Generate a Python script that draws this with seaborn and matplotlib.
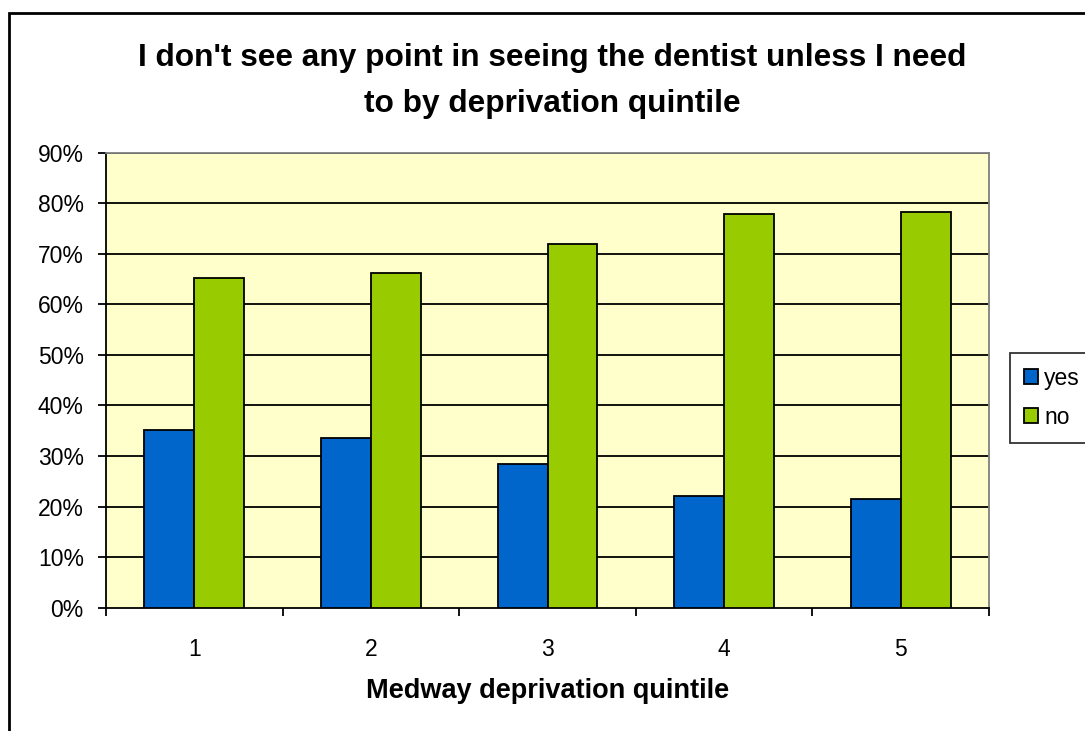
import matplotlib
matplotlib.use("Agg")
import matplotlib.pyplot as plt
import seaborn as sns
import pandas as pd
import numpy as np
from matplotlib.patches import Rectangle

quintiles = ["1", "2", "3", "4", "5"]
yes_vals = [35.1, 33.5, 28.4, 22.0, 21.6]
no_vals = [65.3, 66.3, 71.9, 77.8, 78.3]
y_ticks = [0, 10, 20, 30, 40, 50, 60, 70, 80, 90]
y_tick_labels = [f"{v}%" for v in y_ticks]
title_lines = ["I don't see any point in seeing the dentist unless I need",
               "to by deprivation quintile"]
xlabel = "Medway deprivation quintile"

df = pd.DataFrame({
    "quintile": quintiles * 2,
    "answer": ["yes"] * 5 + ["no"] * 5,
    "value": yes_vals + no_vals,
})

sns.set_theme(style="white")
plt.rcParams['font.family'] = ['Liberation Sans', 'DejaVu Sans']
plt.rcParams.update({"text.color": "black", "axes.labelcolor": "black",
                     "xtick.color": "black", "ytick.color": "black"})

W, H = 1085, 731
fig = plt.figure(figsize=(W / 100, H / 100), dpi=100)
ax = fig.add_axes([106 / W, 1 - 607.7 / H, (989 - 106) / W, (607.7 - 152.7) / H])
ax.set_facecolor("#FFFFCC")

sns.barplot(data=df, x="quintile", y="value", hue="answer",
            palette={"yes": "#0066CC", "no": "#99CC00"}, saturation=1,
            width=0.565, gap=0, edgecolor="black", linewidth=1.3,
            ax=ax, legend=True, zorder=3)

ax.set_ylim(0, 90)
ax.set_xlim(-0.5, 4.5)
ax.set_yticks(y_ticks)
ax.set_yticklabels(y_tick_labels, fontsize=16.5)
for v in y_ticks[1:]:
    ax.axhline(v, color="black", lw=1.3, zorder=1)

ax.set_xticks(np.arange(-0.5, 5.0, 1.0))
ax.set_xticklabels([])
ax.set_xticks(np.arange(5), minor=True)
ax.set_xticklabels(quintiles, minor=True, fontsize=16.5)
ax.tick_params(axis="x", which="minor", length=0, pad=22)
ax.tick_params(axis="x", which="major", direction="out", length=6, width=1.3, color="black", bottom=True)
ax.tick_params(axis="y", direction="out", length=6, width=1.3, color="black", left=True, pad=10)

ax.set_xlabel(xlabel, fontsize=19.5, fontweight="bold", labelpad=12)
ax.set_ylabel("")

for s in ["left", "bottom"]:
    ax.spines[s].set_color("black")
    ax.spines[s].set_linewidth(1.3)
for s in ["top", "right"]:
    ax.spines[s].set_color("#808080")
    ax.spines[s].set_linewidth(1.3)

leg = ax.legend(loc="upper left", bbox_to_anchor=(1010 / W, 1 - 353 / H),
                bbox_transform=fig.transFigure, fontsize=16.5, frameon=True,
                fancybox=False, edgecolor="black", facecolor="white",
                handlelength=0.6, handleheight=0.6, handletextpad=0.3,
                borderpad=0.6, labelspacing=0.7, borderaxespad=0)
leg.get_frame().set_linewidth(1.3)

fig.text(552 / W, 1 - 58 / H, title_lines[0], ha="center", va="center",
         fontsize=22.8, fontweight="bold")
fig.text(552 / W, 1 - 104 / H, title_lines[1], ha="center", va="center",
         fontsize=22.8, fontweight="bold")

fig.patches.append(Rectangle((9 / W, -0.1), 1.2, 1 - 13 / H + 0.1,
                             transform=fig.transFigure, fill=False,
                             edgecolor="black", lw=2, zorder=10))

fig.savefig("out.png", dpi=100)
